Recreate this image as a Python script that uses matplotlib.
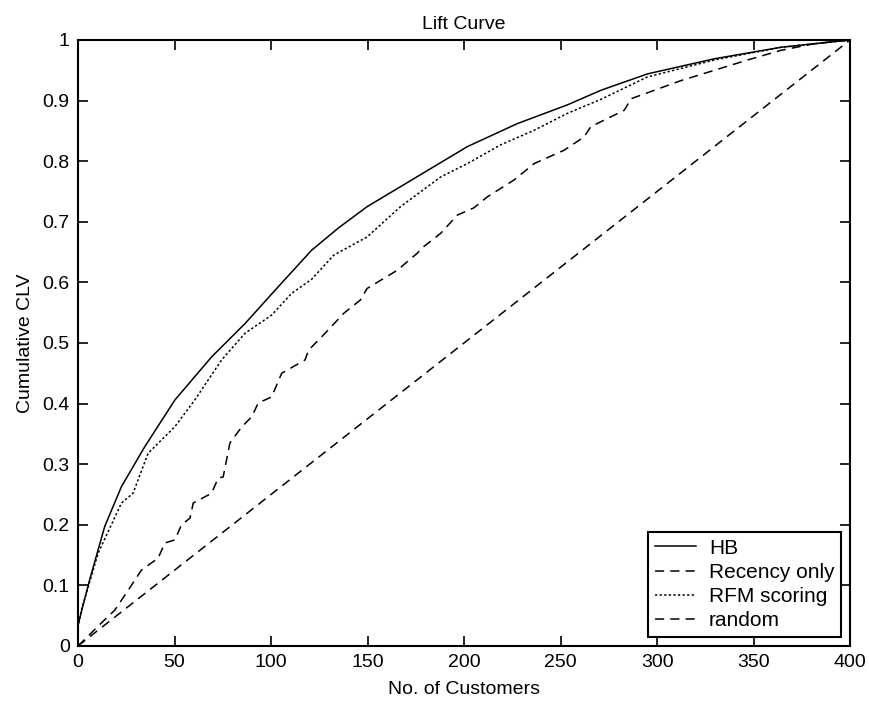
import matplotlib.pyplot as plt

# values
hb_x = [0, 6, 13.8, 22.5, 34.6, 50.2, 69.2, 86.5, 103.8, 121, 135, 149.8, 184.4,
        201.7, 227.6, 253.6, 270.9, 295, 329.7, 364.3, 400]
hb_y = [0.035, 0.109, 0.197, 0.263, 0.329, 0.406, 0.477, 0.532, 0.593, 0.653, 0.69,
        0.725, 0.791, 0.824, 0.862, 0.893, 0.917, 0.944, 0.969, 0.988, 1.0]

rfm_x = [0, 1.7, 10.4, 22.5, 28.5, 36.3, 50.2, 60.5, 74.4, 86.5, 100.3, 110.7, 121,
         132.5, 149.8, 167.1, 187.9, 201.7, 219, 236.3, 253.6, 270.9, 295, 329.7,
         364.3, 400]
rfm_y = [0.03, 0.059, 0.153, 0.236, 0.252, 0.318, 0.362, 0.406, 0.472, 0.516, 0.546,
         0.582, 0.605, 0.645, 0.675, 0.725, 0.774, 0.796, 0.827, 0.851, 0.879, 0.902,
         0.939, 0.967, 0.988, 1.0]

rec_x = [0, 12.1, 19, 26, 32.8, 41.5, 45, 50.2, 53.6, 58, 59.7, 69.2, 72.6, 75.2,
         78.7, 84.7, 89.9, 93.4, 100.3, 105.5, 117.6, 119.4, 128, 137.7, 146.3,
         149.8, 165.4, 175.7, 178.3, 187.9, 196.5, 205.1, 212, 225.9, 236.3, 251.8,
         262.2, 265.7, 283, 286.5, 300.3, 312.4, 329.7, 346.9, 364.3, 381.6, 400]
rec_y = [0, 0.038, 0.059, 0.092, 0.125, 0.145, 0.17, 0.175, 0.2, 0.211, 0.236, 0.252,
         0.277, 0.279, 0.335, 0.361, 0.378, 0.401, 0.411, 0.45, 0.472, 0.488, 0.516,
         0.549, 0.571, 0.59, 0.62, 0.648, 0.657, 0.681, 0.711, 0.723, 0.741, 0.769,
         0.796, 0.818, 0.84, 0.857, 0.884, 0.903, 0.919, 0.933, 0.95, 0.967, 0.983,
         0.994, 1.0]

rand_x = [0, 400]
rand_y = [0, 1]

plt.rcParams['font.family'] = ['Liberation Sans', 'DejaVu Sans']
plt.rcParams['font.size'] = 14

fig = plt.figure(figsize=(8.69, 7.09), dpi=100)
ax = fig.add_axes([0.0898, 0.0889, 0.8884, 0.8547])

ax.plot(hb_x, hb_y, color='black', lw=1.1, ls='-', label='HB')
ax.plot(rec_x, rec_y, color='black', lw=1.1, ls=(0, (6, 4)), label='Recency only')
ax.plot(rfm_x, rfm_y, color='black', lw=1.1, ls=(0, (1.5, 1.5)), label='RFM scoring')
ax.plot(rand_x, rand_y, color='black', lw=1.1, ls=(0, (6, 4)), label='random')

ax.set_xlim(0, 400)
ax.set_ylim(0, 1)
ax.set_xticks(range(0, 401, 50))
ax.set_yticks([i / 10 for i in range(11)])
ax.set_yticklabels(['0', '0.1', '0.2', '0.3', '0.4', '0.5', '0.6', '0.7', '0.8', '0.9', '1'])
ax.tick_params(direction='in', top=True, right=True, length=7, width=1.2, pad=6)
for s in ax.spines.values():
    s.set_linewidth(1.5)

ax.set_title('Lift Curve', fontsize=14, pad=8)
ax.set_xlabel('No. of Customers', labelpad=7)
ax.set_ylabel('Cumulative CLV', labelpad=6)

leg = ax.legend(loc='lower right', fancybox=False, edgecolor='black', framealpha=1,
                fontsize=15, handlelength=2.0, borderaxespad=0.45, labelspacing=0.25,
                borderpad=0.3, handletextpad=0.6)
leg.get_frame().set_linewidth(1.5)

fig.savefig('out.png', dpi=100)
